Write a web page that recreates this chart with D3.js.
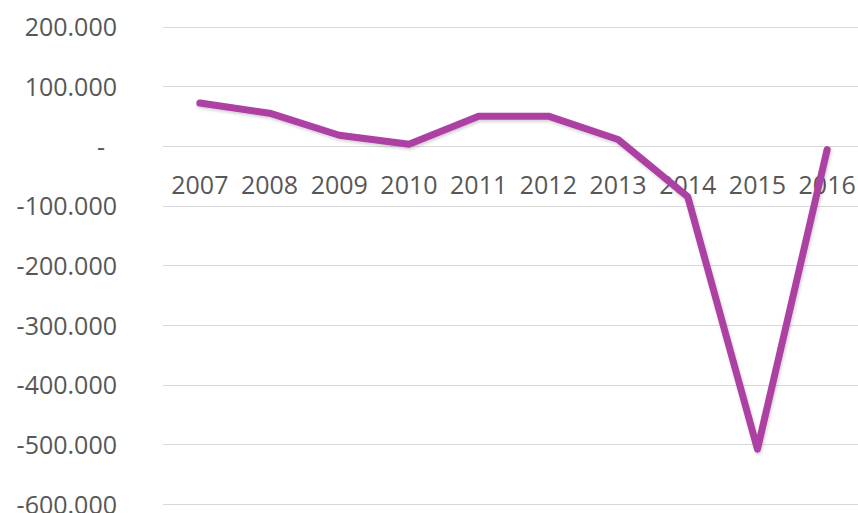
<!DOCTYPE html>
<html>
<head>
<meta charset="utf-8">
<script src="https://cdn.jsdelivr.net/npm/d3@7"></script>
<style>
  html, body { margin: 0; padding: 0; background: #fff; }
  svg { display: block; }
  .tick text { font-family: "Open Sans", sans-serif; font-size: 25px; fill: #575757; }
</style>
</head>
<body>
<svg id="chart" width="858" height="513"></svg>
<script>
// Data
const years = ["2007","2008","2009","2010","2011","2012","2013","2014","2015","2016"];
const values = [72000, 55000, 18000, 3000, 50000, 50000, 11000, -85000, -508000, -6000];
const yTicks = [200000, 100000, 0, -100000, -200000, -300000, -400000, -500000, -600000];

const svg = d3.select("#chart");
const W = 858, H = 513;
const plot = { left: 163, right: 862, top: 26.7, bottom: 504 };

const x = d3.scaleBand().domain(years).range([165, 862]).paddingInner(0).paddingOuter(0);
const y = d3.scaleLinear().domain([-600000, 200000]).range([plot.bottom, plot.top]);

function label(v) {
  if (v === 0) return "-";
  const s = d3.format(",.0f")(Math.abs(v)).replace(/,/g, ".");
  return (v < 0 ? "-" : "") + s;
}

// Gridlines
svg.append("g").attr("class", "grid")
  .selectAll("line").data(yTicks).join("line")
  .attr("x1", plot.left).attr("x2", W)
  .attr("y1", d => Math.round(y(d)) + 0.5).attr("y2", d => Math.round(y(d)) + 0.5)
  .attr("stroke", "#d9d9d9").attr("stroke-width", 1.2);

// Y axis labels
const yAxis = d3.axisLeft(y).tickValues(yTicks).tickFormat(label).tickSize(0).tickPadding(0);
const yg = svg.append("g").attr("transform", "translate(117,0)").call(yAxis);
yg.select(".domain").remove();
yg.selectAll(".tick text").attr("dy", "0.36em")
  .attr("dx", d => d === 0 ? -12 : 0);

// X axis labels (next to axis at 0)
const xAxis = d3.axisBottom(x).tickSize(0).tickPadding(0);
const xg = svg.append("g").attr("transform", `translate(0,${y(0)})`).call(xAxis);
xg.select(".domain").remove();
xg.selectAll(".tick text").attr("y", 48).attr("dy", 0);

// Shadow filter
const defs = svg.append("defs");
const f = defs.append("filter").attr("id", "sh").attr("x", "-10%").attr("y", "-10%").attr("width", "120%").attr("height", "120%");
f.append("feDropShadow").attr("dx", 1).attr("dy", 2).attr("stdDeviation", 1.5)
  .attr("flood-color", "#000").attr("flood-opacity", 0.18);

// Line
const line = d3.line().x((d, i) => x(years[i]) + x.bandwidth() / 2).y(d => y(d));
svg.append("path").datum(values)
  .attr("d", line)
  .attr("fill", "none")
  .attr("stroke", "#ad40a3")
  .attr("stroke-width", 7)
  .attr("stroke-linejoin", "round")
  .attr("stroke-linecap", "round")
  .attr("filter", "url(#sh)");
</script>
</body>
</html>
